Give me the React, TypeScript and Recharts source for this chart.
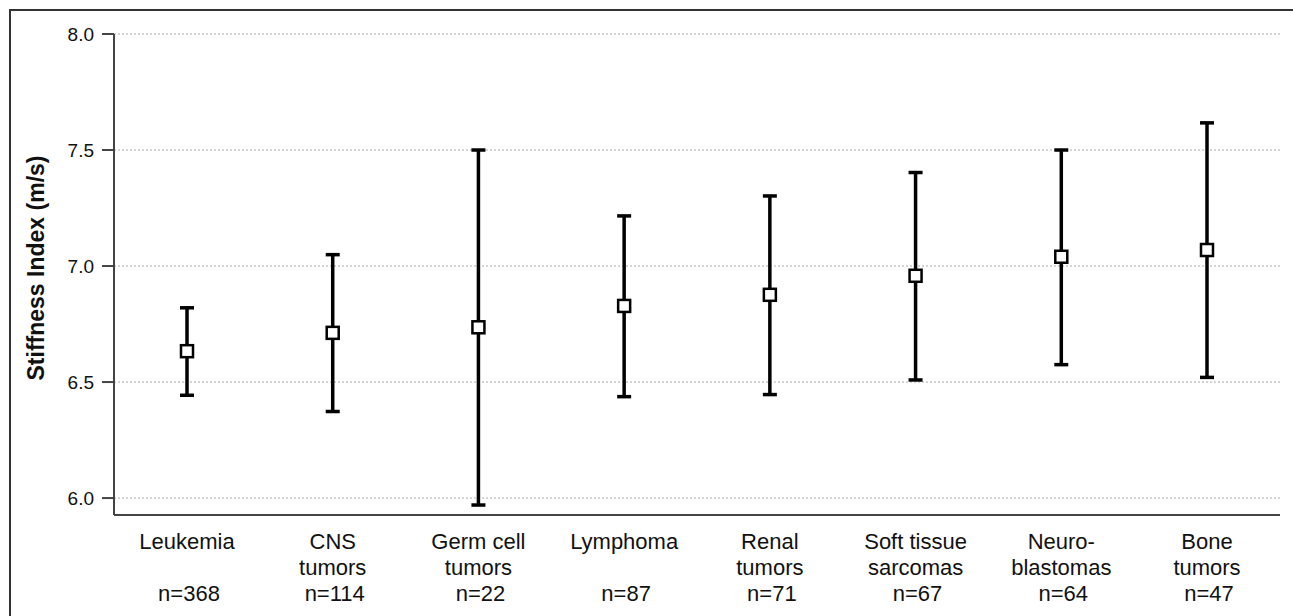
import { ComposedChart, Scatter, ErrorBar, XAxis, YAxis, CartesianGrid } from 'recharts'

const LINE1 = ['Leukemia', 'CNS', 'Germ cell', 'Lymphoma', 'Renal', 'Soft tissue', 'Neuro-', 'Bone']
const LINE2 = ['', 'tumors', 'tumors', '', 'tumors', 'sarcomas', 'blastomas', 'tumors']
const COUNTS = [368, 114, 22, 87, 71, 67, 64, 47]
const MEANS = [6.633, 6.712, 6.736, 6.828, 6.876, 6.958, 7.04, 7.069]
const LOWER = [6.443, 6.373, 5.97, 6.437, 6.446, 6.509, 6.575, 6.52]
const UPPER = [6.82, 7.049, 7.5, 7.216, 7.302, 7.403, 7.5, 7.617]
const Y_TICKS = [6.0, 6.5, 7.0, 7.5, 8.0]

const FONT = '"Liberation Sans", Arial, Helvetica, sans-serif'

const data = LINE1.map((name, i) => ({
  name,
  second: LINE2[i],
  n: COUNTS[i],
  mean: MEANS[i],
  err: [MEANS[i] - LOWER[i], UPPER[i] - MEANS[i]],
}))

function CategoryTick({ x, y, payload, index }: any) {
  const row = data[index] || data.find((d) => d.name === payload.value)
  return (
    <g transform={`translate(${x},${y})`} fontFamily={FONT} fontSize={22} fill="#111">
      <text x={0} y={26} textAnchor="middle" fill="#111">{row.name}</text>
      {row.second && <text x={0} y={52} textAnchor="middle" fill="#111">{row.second}</text>}
      <text x={2} y={78} textAnchor="middle" fill="#111">{`n=${row.n}`}</text>
    </g>
  )
}

function SquareDot({ cx, cy }: any) {
  return <rect x={cx - 6} y={cy - 6} width={12} height={12} fill="#fff" stroke="#000" strokeWidth={2.5} />
}

function YTitle() {
  return (
    <text x={36} y={268} transform="rotate(-90, 36, 268)" textAnchor="middle"
      dominantBaseline="central" fontFamily={FONT} fontSize={23} fontWeight="bold" fill="#111">
      Stiffness Index (m/s)
    </text>
  )
}

export default function App() {
  return (
    <div style={{ position: 'fixed', left: 0, top: 0, width: 1293, height: 616, overflow: 'hidden', background: '#fff' }}>
      <div style={{ position: 'absolute', left: 9, top: 9, width: 1320, height: 640, border: '2px solid #333' }} />
      <div style={{ position: 'absolute', left: 0, top: 0 }}>
        <ComposedChart width={1293} height={616} data={data}
          margin={{ top: 34, right: 13, bottom: 0, left: 0 }}>
          <CartesianGrid vertical={false} stroke="#aaa" strokeDasharray="2 2" />
          <XAxis dataKey="name" height={101} axisLine={{ stroke: '#444', strokeWidth: 2 }}
            tickLine={false} tick={<CategoryTick />} interval={0}
            padding={{ left: 73, right: 73 }} />
          <YAxis width={114} domain={[5.927, 8.0]} ticks={Y_TICKS} type="number"
            allowDataOverflow tickFormatter={(v: number) => v.toFixed(1)}
            axisLine={{ stroke: '#444', strokeWidth: 2 }} tickLine={{ stroke: '#444', strokeWidth: 2 }}
            tickSize={12} tickMargin={8}
            tick={{ fontFamily: FONT, fontSize: 19, fill: '#111' }}
            label={<YTitle />} />
          <Scatter dataKey="mean" shape={<SquareDot />} isAnimationActive={false}>
            <ErrorBar dataKey="err" direction="y" width={7} stroke="#000" strokeWidth={3.5} />
          </Scatter>
        </ComposedChart>
      </div>
    </div>
  )
}
